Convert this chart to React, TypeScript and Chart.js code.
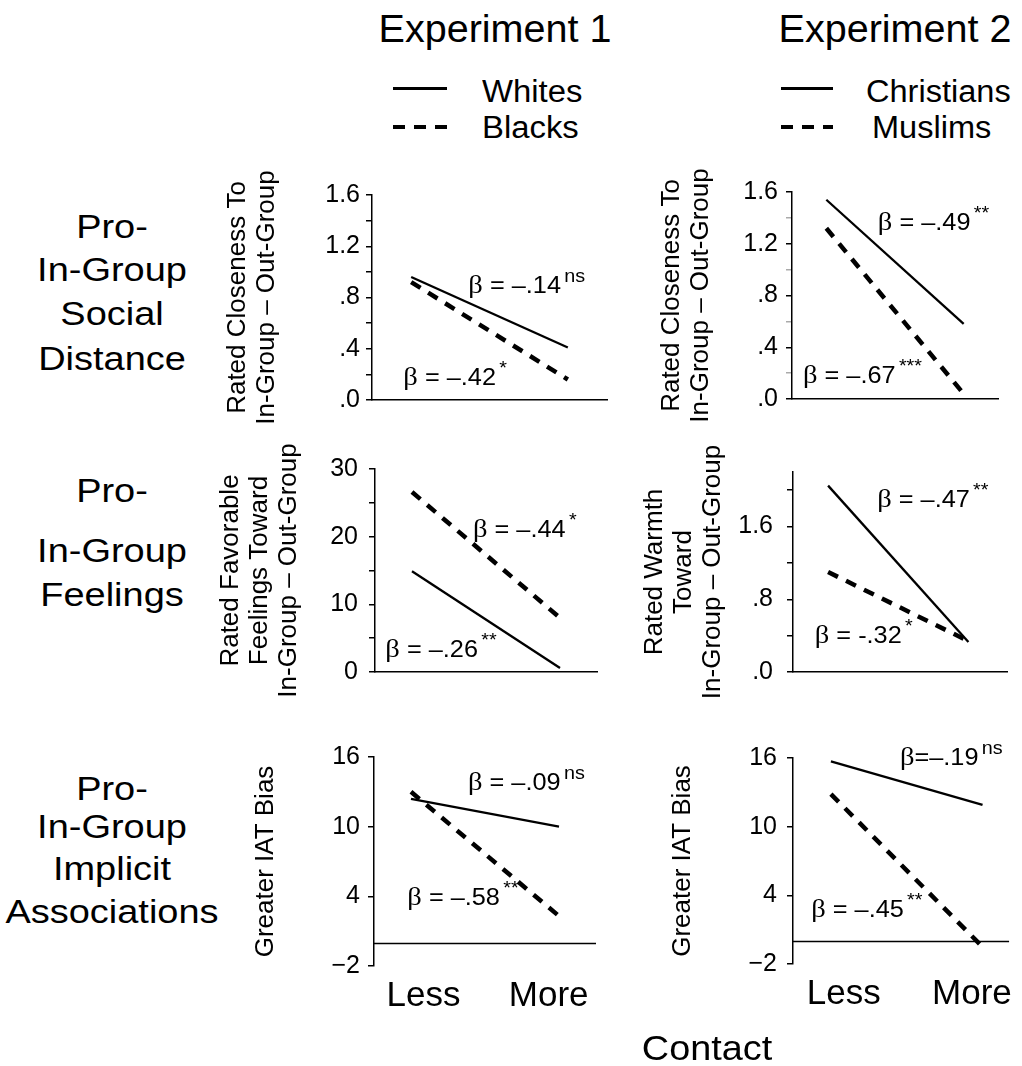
import React, { useEffect, useRef } from 'react';
import { Chart, registerables } from 'chart.js';

Chart.register(...registerables);

const FONT = '"Liberation Sans", Arial, Helvetica, sans-serif';
const SERIF = '"Liberation Serif", "DejaVu Serif", serif';

// ---------------- data ----------------
const experimentTitles = ['Experiment 1', 'Experiment 2'];
const exp1Groups = ['Whites', 'Blacks'];
const exp2Groups = ['Christians', 'Muslims'];
const rowLabels = [
  ['Pro-', 'In-Group', 'Social', 'Distance'],
  ['Pro-', 'In-Group', 'Feelings'],
  ['Pro-', 'In-Group', 'Implicit', 'Associations'],
];
const contactAxisTitle = 'Contact';
const contactLevels = [-1, 1]; // less contact, more contact
const contactLabels = ['Less', 'More'];
const contactLabelPositions = [-0.83, 0.86];

// Row 1: social distance
const exp1DistanceWhites = [0.96, 0.41];
const exp1DistanceBlacks = [0.92, 0.16];
const exp2DistanceChristians = [1.54, 0.58];
const exp2DistanceMuslims = [1.32, 0.04];
// Row 2: feelings / warmth
const exp1FeelingsWhites = [14.9, 0.6];
const exp1FeelingsBlacks = [26.6, 8.0];
const exp2WarmthChristians = [2.05, 0.33];
const exp2WarmthMuslims = [1.1, 0.34];
// Row 3: IAT
const exp1IatWhites = [12.4, 10.0];
const exp1IatBlacks = [13.0, 2.3];
const exp2IatChristians = [15.7, 11.9];
const exp2IatMuslims = [12.85, -0.5];

// y tick values
const closenessTicks = [0, 0.2, 0.4, 0.6, 0.8, 1.0, 1.2, 1.4, 1.6];
const closenessLabeled = [0, 0.4, 0.8, 1.2, 1.6];
const feelingsTicks = [0, 5, 10, 15, 20, 25, 30];
const feelingsLabeled = [0, 10, 20, 30];
const warmthTicks = [0, 0.4, 0.8, 1.2, 1.6, 2.0];
const warmthLabeled = [0, 0.8, 1.6];
const iatTicks = [-2, 4, 10, 16];

// axis titles
const closenessTitle = ['Rated Closeness To', 'In-Group – Out-Group'];
const feelingsTitle = ['Rated Favorable', 'Feelings Toward', 'In-Group – Out-Group'];
const warmthTitle = ['Rated Warmth', 'Toward', 'In-Group – Out-Group'];
const iatTitle = ['Greater IAT Bias'];

// beta annotations (text, significance)
const exp1DistanceBetas = ['β = –.14', 'β = –.42'];
const exp1DistanceSig = ['ns', '*'];
const exp2DistanceBetas = ['β = –.49', 'β = –.67'];
const exp2DistanceSig = ['**', '***'];
const exp1FeelingsBetas = ['β = –.44', 'β = –.26'];
const exp1FeelingsSig = ['*', '**'];
const exp2WarmthBetas = ['β = –.47', 'β = -.32'];
const exp2WarmthSig = ['**', '*'];
const exp1IatBetas = ['β = –.09', 'β = –.58'];
const exp1IatSig = ['ns', '**'];
const exp2IatBetas = ['β=–.19', 'β = –.45'];
const exp2IatSig = ['ns', '**'];

// ---------------- helpers ----------------
const fmtDec = (v: number) => {
  const s = v.toFixed(1);
  return s.startsWith('0') ? s.slice(1) : s;
};
const fmtInt = (v: number) => (v < 0 ? '−' + Math.abs(v) : String(v));

type Beta = { x: number; y: number; text: string; sup: string };

type PanelSpec = {
  canvas: [number, number, number, number];
  area: [number, number, number, number];
  xRange: [number, number];
  yRange: [number, number];
  yTicks: number[];
  yLabeled: number[];
  yFormat: (v: number) => string;
  yTickPad: number;
  yTitle: string[];
  yTitleX: number;
  names: string[];
  solid: number[];
  dashed: number[];
  betas: Beta[];
  iat: boolean;
  minorColor: string;
};

const ANNOT_SX = 1.1;

function makeBetaPlugin(items: Beta[]) {
  return {
    id: 'betaLabels',
    afterDatasetsDraw(chart: any) {
      const { ctx, scales } = chart;
      ctx.save();
      ctx.fillStyle = '#000';
      ctx.textBaseline = 'alphabetic';
      ctx.textAlign = 'left';
      for (const it of items) {
        const px = scales.x.getPixelForValue(it.x);
        const py = scales.y.getPixelForValue(it.y);
        ctx.save();
        ctx.translate(px, py);
        ctx.scale(ANNOT_SX, 1);
        let cx = 0;
        const b = it.text.slice(0, 1);
        const rest = it.text.slice(1);
        ctx.font = `26px ${SERIF}`;
        ctx.fillText(b, cx, 0);
        cx += ctx.measureText(b).width;
        ctx.font = `23px ${FONT}`;
        ctx.fillText(rest, cx, 0);
        cx += ctx.measureText(rest).width + 3;
        ctx.font = `18px ${FONT}`;
        ctx.fillText(it.sup, cx, -11);
        ctx.restore();
      }
      ctx.restore();
    },
  };
}

function makeZeroLinePlugin(show: boolean) {
  return {
    id: 'zeroLine',
    afterDatasetsDraw(chart: any) {
      if (!show) return;
      const { ctx, chartArea, scales } = chart;
      const y = Math.round(scales.y.getPixelForValue(0)) + 0.5;
      ctx.save();
      ctx.strokeStyle = '#000';
      ctx.lineWidth = 1.5;
      ctx.beginPath();
      ctx.moveTo(chartArea.left, y);
      ctx.lineTo(chartArea.right, y);
      ctx.stroke();
      ctx.restore();
    },
  };
}

function Panel({ spec }: { spec: PanelSpec }) {
  const ref = useRef<HTMLCanvasElement>(null);
  const [cl, ct, cw, ch] = spec.canvas;
  useEffect(() => {
    const s = spec;
    const [al, at, ar, ab] = s.area;
    const xH = s.iat ? 60 : 0;
    const yW = al - cl;
    const titleSize = 26;
    const titleLH = 29;
    const isLabeled = (v: number) => s.yLabeled.some((l) => Math.abs(l - v) < 1e-6);
    const chart = new Chart(ref.current as HTMLCanvasElement, {
      type: 'line',
      data: {
        datasets: [
          {
            label: s.names[0],
            data: contactLevels.map((x, i) => ({ x, y: s.solid[i] })),
            borderColor: '#000',
            borderWidth: 2.3,
            pointRadius: 0,
            fill: false,
          },
          {
            label: s.names[1],
            data: contactLevels.map((x, i) => ({ x, y: s.dashed[i] })),
            borderColor: '#000',
            borderWidth: 4.5,
            borderDash: [11, 9],
            borderCapStyle: 'butt',
            pointRadius: 0,
            fill: false,
          },
        ],
      },
      options: {
        responsive: false,
        animation: false,
        events: [],
        layout: {
          padding: { left: 0, top: at - ct, right: cl + cw - ar, bottom: ct + ch - ab - xH },
        },
        plugins: {
          legend: { display: false },
          tooltip: { enabled: false },
          title: { display: false },
        },
        scales: {
          x: {
            type: 'linear',
            min: s.xRange[0],
            max: s.xRange[1],
            afterBuildTicks: (sc: any) => {
              if (s.iat) sc.ticks = contactLabelPositions.map((v) => ({ value: v }));
            },
            afterFit: (sc: any) => {
              sc.height = xH;
            },
            grid: { display: false, drawTicks: false },
            border: { display: !s.iat, color: '#000', width: 1.5 },
            ticks: {
              display: s.iat,
              autoSkip: false,
              maxRotation: 0,
              padding: 9,
              color: '#000',
              font: { size: 35, family: FONT },
              callback: (_v: any, i: number) => contactLabels[i],
            },
          },
          y: {
            type: 'linear',
            min: s.yRange[0],
            max: s.yRange[1],
            afterBuildTicks: (sc: any) => {
              sc.ticks = s.yTicks.map((v) => ({ value: v }));
            },
            afterFit: (sc: any) => {
              sc.width = yW;
            },
            grid: {
              display: true,
              drawOnChartArea: false,
              drawTicks: true,
              tickLength: 6,
              lineWidth: 1.5,
              color: (c: any) => (isLabeled(c.tick ? c.tick.value : 0) ? '#000' : s.minorColor),
              tickColor: (c: any) => (isLabeled(c.tick ? c.tick.value : 0) ? '#000' : s.minorColor),
            },
            border: { display: true, color: '#000', width: 1.5 },
            ticks: {
              autoSkip: false,
              padding: s.yTickPad,
              color: '#000',
              font: { size: 25, family: FONT },
              callback: (v: any) => (isLabeled(Number(v)) ? s.yFormat(Number(v)) : ''),
            },
            title: {
              display: true,
              text: s.yTitle,
              color: '#000',
              font: { size: titleSize, family: FONT, lineHeight: titleLH / titleSize },
              padding: { top: s.yTitleX - cl - titleLH / 2, bottom: 0 },
            },
          },
        },
      } as any,
      plugins: [makeBetaPlugin(s.betas), makeZeroLinePlugin(s.iat)],
    });
    return () => chart.destroy();
  }, []);
  return (
    <canvas
      ref={ref}
      width={cw}
      height={ch}
      style={{ position: 'absolute', left: cl, top: ct, width: cw, height: ch }}
    />
  );
}

function Txt({
  x,
  baseline,
  size,
  text,
  align = 'center',
  sx = 1,
}: {
  x: number;
  baseline: number;
  size: number;
  text: string;
  align?: 'center' | 'left';
  sx?: number;
}) {
  const top = baseline - 0.8465 * size;
  return (
    <div
      style={{
        position: 'absolute',
        left: x,
        top,
        fontSize: size,
        lineHeight: `${size}px`,
        whiteSpace: 'nowrap',
        fontFamily: FONT,
        color: '#000',
        transform: align === 'center' ? `translateX(-50%) scaleX(${sx})` : `scaleX(${sx})`,
        transformOrigin: align === 'center' ? '50% 50%' : '0 50%',
      }}
    >
      {text}
    </div>
  );
}

function LegendLine({ x, y, w, dashed }: { x: number; y: number; w: number; dashed: boolean }) {
  const h = dashed ? 4.5 : 3;
  return (
    <div
      style={{
        position: 'absolute',
        left: x,
        top: y - h / 2,
        width: w,
        height: h,
        background: dashed
          ? 'repeating-linear-gradient(to right, #000 0px, #000 12px, transparent 12px, transparent 21px)'
          : '#000',
      }}
    />
  );
}

const COL1 = 200;
const COL1W = 420;
const COL2 = 630;
const COL2W = 392;

const panels: PanelSpec[] = [
  {
    canvas: [COL1, 130, COL1W, 300],
    area: [372, 195, 607, 400],
    xRange: [-1.5, 1.5],
    yRange: [0, 1.6],
    yTicks: closenessTicks,
    yLabeled: closenessLabeled,
    yFormat: fmtDec,
    yTickPad: 6,
    yTitle: closenessTitle,
    yTitleX: 238,
    names: exp1Groups,
    solid: exp1DistanceWhites,
    dashed: exp1DistanceBlacks,
    betas: [
      { x: -0.27, y: 0.835, text: exp1DistanceBetas[0], sup: exp1DistanceSig[0] },
      { x: -1.1, y: 0.117, text: exp1DistanceBetas[1], sup: exp1DistanceSig[1] },
    ],
    iat: false,
    minorColor: '#000',
  },
  {
    canvas: [COL2, 130, COL2W, 300],
    area: [792, 192, 998, 399],
    xRange: [-1.5, 1.5],
    yRange: [0, 1.6],
    yTicks: closenessTicks,
    yLabeled: closenessLabeled,
    yFormat: fmtDec,
    yTickPad: 8,
    yTitle: closenessTitle,
    yTitleX: 672,
    names: exp2Groups,
    solid: exp2DistanceChristians,
    dashed: exp2DistanceMuslims,
    betas: [
      { x: -0.25, y: 1.31, text: exp2DistanceBetas[0], sup: exp2DistanceSig[0] },
      { x: -1.34, y: 0.124, text: exp2DistanceBetas[1], sup: exp2DistanceSig[1] },
    ],
    iat: false,
    minorColor: '#aaa',
  },
  {
    canvas: [COL1, 430, COL1W, 290],
    area: [375, 469, 597, 672],
    xRange: [-1.5, 1.5],
    yRange: [0, 30],
    yTicks: feelingsTicks,
    yLabeled: feelingsLabeled,
    yFormat: fmtInt,
    yTickPad: 11,
    yTitle: feelingsTitle,
    yTitleX: 231,
    names: exp1Groups,
    solid: exp1FeelingsWhites,
    dashed: exp1FeelingsBlacks,
    betas: [
      { x: -0.176, y: 19.9, text: exp1FeelingsBetas[0], sup: exp1FeelingsSig[0] },
      { x: -1.36, y: 2.2, text: exp1FeelingsBetas[1], sup: exp1FeelingsSig[1] },
    ],
    iat: false,
    minorColor: '#000',
  },
  {
    canvas: [COL2, 430, COL2W, 290],
    area: [793, 472, 1007, 672],
    xRange: [-1.5, 1.55],
    yRange: [0, 2.2],
    yTicks: warmthTicks,
    yLabeled: warmthLabeled,
    yFormat: fmtDec,
    yTickPad: 14,
    yTitle: warmthTitle,
    yTitleX: 655,
    names: exp2Groups,
    solid: exp2WarmthChristians,
    dashed: exp2WarmthMuslims,
    betas: [
      { x: -0.3, y: 1.81, text: exp2WarmthBetas[0], sup: exp2WarmthSig[0] },
      { x: -1.19, y: 0.32, text: exp2WarmthBetas[1], sup: exp2WarmthSig[1] },
    ],
    iat: false,
    minorColor: '#000',
  },
  {
    canvas: [COL1, 720, COL1W, 320],
    area: [374, 757, 596, 966],
    xRange: [-1.5, 1.5],
    yRange: [-2, 16],
    yTicks: iatTicks,
    yLabeled: iatTicks,
    yFormat: fmtInt,
    yTickPad: 8,
    yTitle: iatTitle,
    yTitleX: 266,
    names: exp1Groups,
    solid: exp1IatWhites,
    dashed: exp1IatBlacks,
    betas: [
      { x: -0.23, y: 13.16, text: exp1IatBetas[0], sup: exp1IatSig[0] },
      { x: -1.05, y: 3.25, text: exp1IatBetas[1], sup: exp1IatSig[1] },
    ],
    iat: true,
    minorColor: '#000',
  },
  {
    canvas: [COL2, 720, COL2W, 320],
    area: [793, 758, 1015, 964],
    xRange: [-1.5, 1.35],
    yRange: [-2, 16],
    yTicks: iatTicks,
    yLabeled: iatTicks,
    yFormat: fmtInt,
    yTickPad: 10,
    yTitle: iatTitle,
    yTitleX: 683,
    names: exp2Groups,
    solid: exp2IatChristians,
    dashed: exp2IatMuslims,
    betas: [
      { x: -0.09, y: 15.4, text: exp2IatBetas[0], sup: exp2IatSig[0] },
      { x: -1.26, y: 2.1, text: exp2IatBetas[1], sup: exp2IatSig[1] },
    ],
    iat: true,
    minorColor: '#000',
  },
];

const rowBaselines = [
  [238, 281, 325, 370],
  [502, 562, 606],
  [800, 838, 880, 923],
];

export default function App() {
  return (
    <div
      style={{
        position: 'absolute',
        left: 0,
        top: 0,
        width: 1022,
        height: 1066,
        background: '#fff',
        overflow: 'hidden',
        fontFamily: FONT,
      }}
    >
      <Txt x={495} baseline={42} size={38} sx={1.04} text={experimentTitles[0]} />
      <Txt x={895} baseline={42} size={38} sx={1.04} text={experimentTitles[1]} />

      <LegendLine x={393} y={88} w={54} dashed={false} />
      <LegendLine x={393} y={127} w={54} dashed={true} />
      <Txt x={482} baseline={102} size={31} sx={1.06} align="left" text={exp1Groups[0]} />
      <Txt x={482} baseline={138} size={31} sx={1.06} align="left" text={exp1Groups[1]} />

      <LegendLine x={781} y={88} w={52} dashed={false} />
      <LegendLine x={781} y={127} w={52} dashed={true} />
      <Txt x={866} baseline={102} size={31} sx={1.05} align="left" text={exp2Groups[0]} />
      <Txt x={872} baseline={138} size={31} sx={1.05} align="left" text={exp2Groups[1]} />

      {rowLabels.map((lines, r) =>
        lines.map((t, i) => (
          <Txt key={`${r}-${i}`} x={112} baseline={rowBaselines[r][i]} size={33} sx={1.15} text={t} />
        ))
      )}

      {panels.map((p, i) => (
        <Panel key={i} spec={p} />
      ))}

      <Txt x={707} baseline={1060} size={35} sx={1.08} text={contactAxisTitle} />
    </div>
  );
}
